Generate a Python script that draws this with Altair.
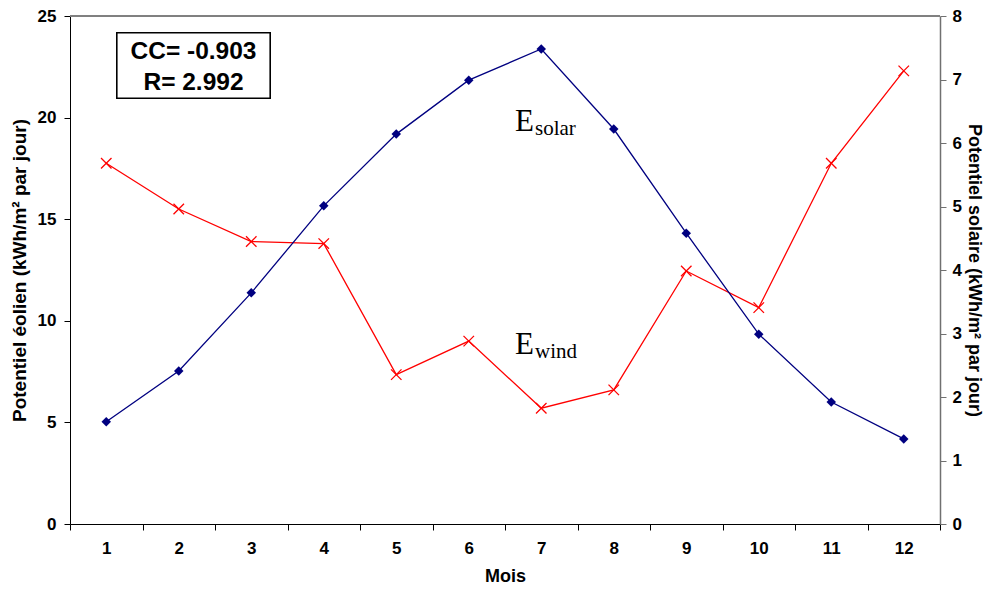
import altair as alt
import pandas as pd

months = list(range(1, 13))
wind = [17.75, 15.5, 13.9, 13.8, 7.35, 9.0, 5.7, 6.6, 12.45, 10.65, 17.75, 22.3]
solar = [1.61, 2.41, 3.64, 5.01, 6.14, 6.99, 7.48, 6.22, 4.58, 2.99, 1.92, 1.34]
wind_ticks = [0, 5, 10, 15, 20, 25]
solar_ticks = [0, 1, 2, 3, 4, 5, 6, 7, 8]
stats_lines = ["CC= -0.903", "R= 2.992"]

df = pd.DataFrame({"Mois": months, "wind": wind, "solar": solar})

FONT = "Liberation Sans"
SERIF = "Liberation Serif"
W, H = 870, 508

x = alt.X(
    "Mois:O",
    bandPosition=0.5,
    scale=alt.Scale(type="band", paddingInner=0, paddingOuter=0),
    axis=alt.Axis(
        title="Mois", labelAngle=0, tickBand="extent", tickSize=6,
        labelPadding=10, titlePadding=11, domainColor="black", tickColor="black",
        labelFont=FONT, labelFontSize=17, labelFontWeight="bold", labelColor="black",
        titleFont=FONT, titleFontSize=18, titleFontWeight="bold", titleColor="black",
    ),
)

y_wind = alt.Y(
    "wind:Q",
    scale=alt.Scale(domain=[0, 25], nice=False, zero=True),
    axis=alt.Axis(
        orient="left", values=wind_ticks, grid=False, tickSize=6, labelPadding=8,
        title="Potentiel éolien (kWh/m² par jour)", titlePadding=8,
        domainColor="black", tickColor="black",
        labelFont=FONT, labelFontSize=17, labelFontWeight="bold", labelColor="black",
        titleFont=FONT, titleFontSize=19, titleFontWeight="bold", titleColor="black",
    ),
)

y_solar = alt.Y(
    "solar:Q",
    scale=alt.Scale(domain=[0, 8], nice=False, zero=True),
    axis=alt.Axis(
        orient="right", values=solar_ticks, grid=False, tickSize=6, labelPadding=6,
        title="Potentiel solaire (kWh/m² par jour)", titlePadding=3,
        domainColor="#707070", tickColor="#707070", domainWidth=1.5,
        labelFont=FONT, labelFontSize=17, labelFontWeight="bold", labelColor="black",
        titleFont=FONT, titleFontSize=18, titleFontWeight="bold", titleColor="black",
    ),
)

base = alt.Chart(df).encode(x=x)

top_rule = alt.Chart(df).mark_rule(color="#808080", strokeWidth=1).encode(
    x=alt.value(0), x2=alt.value(W), y=alt.value(0)
)

wind_line = base.mark_line(color="#FF0000", strokeWidth=1.3).encode(y=y_wind)
wind_pts = base.mark_point(
    shape="M-1,-1L1,1M-1,1L1,-1", size=110, color="#FF0000", filled=False,
    strokeWidth=1.3, opacity=1,
).encode(y=y_wind)

solar_line = base.mark_line(color="#000080", strokeWidth=1.3).encode(y=y_solar)
solar_pts = base.mark_point(
    shape="diamond", size=90, color="#000080", filled=True, opacity=1,
).encode(y=y_solar)

wind_layer = alt.layer(wind_line, wind_pts)
solar_layer = alt.layer(solar_line, solar_pts)

box = alt.Chart(df).mark_rect(fill="white", stroke="black", strokeWidth=1.2).encode(
    x=alt.value(47), x2=alt.value(200), y=alt.value(17), y2=alt.value(82)
)
stats_df = pd.DataFrame({"t": stats_lines, "yy": [43, 74]})
stats = alt.Chart(stats_df).mark_text(
    font=FONT, fontSize=24.5, fontWeight="bold", color="black", align="center",
    baseline="alphabetic",
).encode(text="t:N", x=alt.value(123.5), y=alt.Y("yy:Q", scale=None))

lab_df = pd.DataFrame({
    "big": ["E", "E"], "sub": ["solar", "wind"], "yy": [115, 338],
})
big_e = alt.Chart(lab_df).mark_text(
    font=SERIF, fontSize=31, color="black", align="left", baseline="alphabetic",
).encode(text="big:N", x=alt.value(445), y=alt.Y("yy:Q", scale=None))
sub_t = alt.Chart(lab_df).mark_text(
    font=SERIF, fontSize=21, color="black", align="left", baseline="alphabetic", dy=4,
).encode(text="sub:N", x=alt.value(465), y=alt.Y("yy:Q", scale=None))

chart = (
    alt.layer(top_rule, wind_layer, solar_layer, box, stats, big_e, sub_t)
    .resolve_scale(y="independent")
    .properties(
        width=W, height=H,
        autosize=alt.AutoSizeParams(type="none"),
        padding={"left": 62, "top": 8, "right": 46, "bottom": 61},
        background="white",
    )
    .configure_view(stroke=None)
)

chart.save("out.html", embed_options={"renderer": "svg", "actions": False})
